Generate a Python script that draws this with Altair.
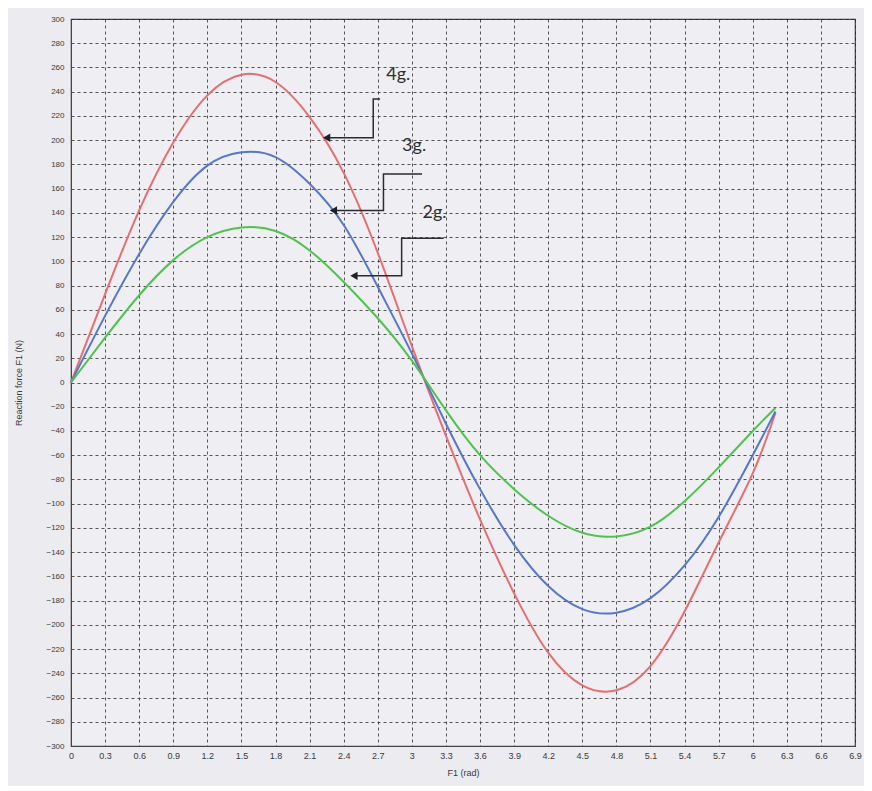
import altair as alt
import pandas as pd

# angle (rad)
phi = [0, 0.3, 0.6, 0.9, 1.2, 1.5, 1.8, 2.1, 2.4, 2.7, 3.0, 3.3, 3.6, 3.9,
       4.2, 4.5, 4.8, 5.1, 5.4, 5.7, 6.0, 6.2]
# reaction force
f_4g = [0, 73, 142, 198, 237, 254, 248, 219, 173, 107, 30, -44, -113, -174,
        -223, -250, -254, -234, -189, -132, -75, -25]
f_3g = [0, 55, 106, 149, 179, 190, 186, 164, 130, 79, 24, -34, -88, -134,
        -168, -187, -190, -178, -151, -111, -60, -24]
f_2g = [0, 37, 72, 101, 120, 128, 125, 109, 83, 53, 18, -23, -60, -88,
        -110, -124, -127, -119, -98, -70, -40, -21]

series_names = ["4g", "3g", "2g"]
series_colors = ["#e56f70", "#5677c9", "#4fc24f"]

x_ticks = [0, 0.3, 0.6, 0.9, 1.2, 1.5, 1.8, 2.1, 2.4, 2.7, 3, 3.3, 3.6, 3.9,
           4.2, 4.5, 4.8, 5.1, 5.4, 5.7, 6, 6.3, 6.6, 6.9]
y_ticks = list(range(-300, 301, 20))

# annotation labels and leader lines (data units)
label_text = ["4g.", "3g.", "2g."]
label_x = [2.88, 3.02, 3.2]
label_y = [254, 195, 140]

leader_4g_x = [2.25, 2.66, 2.66, 2.72]
leader_4g_y = [202, 202, 234, 234]
leader_3g_x = [2.31, 2.75, 2.75, 3.09]
leader_3g_y = [142, 142, 172, 172]
leader_2g_x = [2.49, 2.91, 2.91, 3.28]
leader_2g_y = [88, 88, 119, 119]

rows = []
for name, vals in zip(series_names, [f_4g, f_3g, f_2g]):
    for i, (p, v) in enumerate(zip(phi, vals)):
        rows.append({"phi": p, "F": v, "series": name, "order": i})
df = pd.DataFrame(rows)

lead_rows = []
for name, xs, ys in [("4g", leader_4g_x, leader_4g_y),
                     ("3g", leader_3g_x, leader_3g_y),
                     ("2g", leader_2g_x, leader_2g_y)]:
    for i, (a, b) in enumerate(zip(xs, ys)):
        lead_rows.append({"phi": a, "F": b, "series": name, "order": i})
df_lead = pd.DataFrame(lead_rows)
df_tips = df_lead[df_lead["order"] == 0]
df_labels = pd.DataFrame({"phi": label_x, "F": label_y, "text": label_text})

xscale = alt.Scale(domain=[0, 6.9], nice=False, zero=False)
yscale = alt.Scale(domain=[-300, 300], nice=False)

xaxis = alt.Axis(values=x_ticks, tickCount=100,
                 labelExpr="format(datum.value, '.1~f')",
                 title="F1 (rad)", grid=True, gridDash=[3, 3], gridColor="#222",
                 gridOpacity=0.75, ticks=False, labelPadding=5, labelFontSize=9,
                 labelColor="#3a3a3a", titleFontSize=9, titleColor="#3a3a3a",
                 titleFontWeight="normal", titlePadding=8, domainColor="#444",
                 labelFont="Liberation Sans", titleFont="Liberation Sans",
                 labelOverlap=False, labelFlush=False)
yaxis = alt.Axis(values=y_ticks, tickCount=100, title="Reaction force F1 (N)",
                 grid=True, gridDash=[3, 3], gridColor="#222", gridOpacity=0.75,
                 ticks=False, labelPadding=7, labelFontSize=8,
                 labelColor="#3a3a3a", titleFontSize=9, titleColor="#3a3a3a",
                 titleFontWeight="normal", titlePadding=22, domainColor="#444",
                 labelFont="Liberation Sans", titleFont="Liberation Sans",
                 labelOverlap=False, labelFlush=False)

curves = alt.Chart(df).mark_line(strokeWidth=2, interpolate="natural").encode(
    x=alt.X("phi:Q", scale=xscale, axis=xaxis),
    y=alt.Y("F:Q", scale=yscale, axis=yaxis),
    color=alt.Color("series:N", scale=alt.Scale(domain=series_names,
                                                range=series_colors),
                    legend=None),
    detail="series:N",
    order="order:Q",
)

leaders = alt.Chart(df_lead).mark_line(color="#2b2b33", strokeWidth=1.5).encode(
    x=alt.X("phi:Q", scale=xscale),
    y=alt.Y("F:Q", scale=yscale),
    detail="series:N",
    order="order:Q",
)

tips = alt.Chart(df_tips).mark_point(shape="triangle-left", filled=True,
                                     color="#1f1f26", size=70, opacity=1).encode(
    x=alt.X("phi:Q", scale=xscale),
    y=alt.Y("F:Q", scale=yscale),
)

labels = alt.Chart(df_labels).mark_text(fontSize=18, font="Lato",
                                        color="#2e2e33", align="center",
                                        baseline="middle").encode(
    x=alt.X("phi:Q", scale=xscale),
    y=alt.Y("F:Q", scale=yscale),
    text="text:N",
)

chart = (curves + leaders + tips + labels).properties(
    width=784, height=727,
    autosize=alt.AutoSizeParams(type="none"),
    padding={"left": 63, "top": 11, "right": 9, "bottom": 40},
    background="#ecebef",
).configure_view(stroke="#444", strokeWidth=1.2, fill="#efeef2")

chart.save("out.html", embed_options={"renderer": "svg", "actions": False})
